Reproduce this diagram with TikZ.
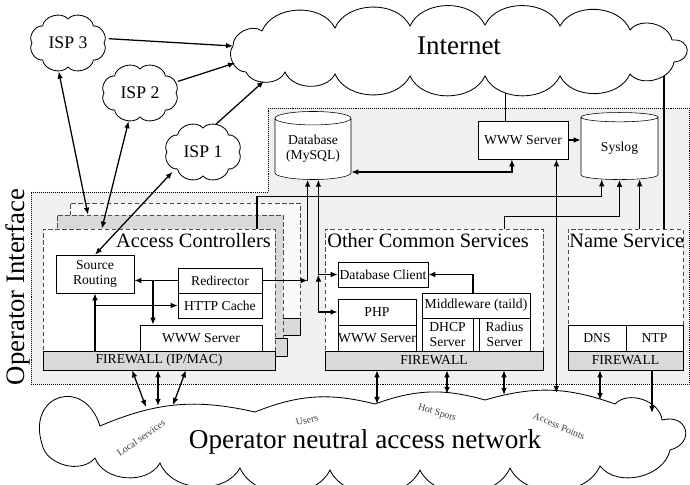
\documentclass[tikz,border=0pt]{standalone}
\usepackage{fontspec}
\setmainfont{Liberation Serif}
\usetikzlibrary{shapes.geometric,arrows.meta,calc}
\definecolor{fwgray}{gray}{0.85}
\definecolor{opgray}{gray}{0.94}
\newcommand{\smallfnt}{\fontsize{9.7}{11}\selectfont}
% small cloud round an ISP node
\newcommand{\ispcloud}[1]{\draw[cloudline] ($(#1)+(36,0)$) \foreach \a in {45,90,...,360} { to[puff] ($(#1)+({36*cos(\a)},{24*sin(\a)})$) };}

\begin{document}
\begin{tikzpicture}[x=0.025cm, y=-0.025cm,
    box/.style={draw, fill=white, inner sep=0pt, align=center, font=\smallfnt},
    fwall/.style={draw, fill=fwgray, inner sep=0pt, font=\smallfnt},
    group/.style={draw=black!70, dash pattern=on 3pt off 2pt, fill=white, inner sep=0pt},
    store/.style={cylinder, shape border rotate=90, aspect=0.25, draw, fill=white, inner sep=0pt, align=center, font=\smallfnt},
    cloudline/.style={draw, fill=white, line width=0.6pt},
    puff/.style={bend left=65},
    flatpuff/.style={bend left=18},
    endpuff/.style={bend left=90, looseness=2.2},
    isp/.style={ellipse, minimum width=2.05cm, minimum height=1.45cm, inner sep=0pt, font=\fontsize{12.6}{14}\selectfont},
    title/.style={inner sep=0pt, font=\fontsize{14.5}{16}\selectfont},
    tag/.style={inner sep=0pt, text=black!75, font=\fontsize{7}{8}\selectfont},
    arr/.style={-{Latex[length=5pt,width=4pt]}, line width=0.9pt},
    arr2/.style={{Latex[length=5pt,width=4pt]}-{Latex[length=5pt,width=4pt]}, line width=0.9pt},
    wire/.style={line width=1.2pt}]
\useasboundingbox (0,0) rectangle (690,485);

%% operator interface area
\draw[densely dotted, fill=opgray] (31,192) -- (268,192) -- (268,108) -- (689,108) -- (689,384) -- (31,384) -- cycle;
\node[rotate=90, inner sep=0pt, font=\fontsize{19}{21}\selectfont] (opif) at (18,287) {Operator Interface};

%% access controllers, stacked
\node[group, fill=gray!4, minimum width=5.75cm, minimum height=2.875cm] (acback) at (185,260.5) {};
\node[fwall, minimum width=5.75cm, minimum height=0.425cm] (acbackfw) at (185,326.5) {};
\node[group, fill=fwgray, minimum width=5.65cm, minimum height=3.075cm] (acmid) at (170,276.5) {};
\node[fwall, minimum width=5.75cm, minimum height=0.45cm] (acmidfw) at (172,347) {};
\node[group, minimum width=5.8cm, minimum height=3.05cm] (acfront) at (159,290) {};
\node[fwall, minimum width=5.8cm, minimum height=0.475cm] (acfw) at (159,360.5) {FIREWALL (IP/MAC)};
\node[title, anchor=east] (actitle) at (271,241) {Access Controllers};
\node[box, minimum width=1.95cm, minimum height=0.95cm] (src) at (95,274) {Source\\Routing};
\node[box, minimum width=2.1cm, minimum height=0.625cm] (redir) at (220,280.5) {Redirector};
\node[box, minimum width=2.1cm, minimum height=0.625cm] (cache) at (220,305.5) {HTTP Cache};
\node[box, minimum width=3.05cm, minimum height=0.65cm] (acwww) at (201,338) {WWW Server};

%% other common services
\node[group, minimum width=5.45cm, minimum height=3.05cm] (ocs) at (434,290) {};
\node[fwall, minimum width=5.45cm, minimum height=0.475cm] (ocsfw) at (434,360.5) {FIREWALL};
\node[title, anchor=west] (ocstitle) at (327,241) {Other Common Services};
\node[box, minimum width=2.25cm, minimum height=0.625cm] (dbclient) at (383,274.5) {Database Client};
\node[box, minimum width=1.95cm, minimum height=0.65cm] (php) at (377,312) {PHP};
\node[box, minimum width=1.95cm, minimum height=0.65cm] (ocswww) at (377,338) {WWW Server};
\node[box, minimum width=2.7cm, minimum height=0.625cm] (mw) at (476,305.5) {Middleware (taild)};
\node[box, minimum width=1.275cm, minimum height=0.825cm] (dhcp) at (447.5,334.5) {DHCP\\Server};
\node[box, minimum width=1.275cm, minimum height=0.825cm] (radius) at (504.5,334.5) {Radius\\Server};

%% name service
\node[group, minimum width=2.875cm, minimum height=3.05cm] (ns) at (625.5,290) {};
\node[fwall, minimum width=2.875cm, minimum height=0.475cm] (nsfw) at (625.5,360.5) {FIREWALL};
\node[title, anchor=west] (nstitle) at (569,241) {Name Service};
\node[box, minimum width=1.45cm, minimum height=0.65cm] (dns) at (597,338) {DNS};
\node[box, minimum width=1.425cm, minimum height=0.65cm] (ntp) at (654.5,338) {NTP};

%% shared servers
\node[store, minimum width=1.9cm, minimum height=1.7cm] (db) at (313,149) {Database\\(MySQL)};
\node[store, minimum width=1.925cm, minimum height=1.675cm] (syslog) at (619.5,148.5) {Syslog};
\node[box, minimum width=2.25cm, minimum height=0.95cm] (www) at (523,140) {WWW Server};

%% internet cloud
\coordinate (inetc) at (459,49);
\draw[wire] (www.132) -- (www.132 |- inetc);
\draw[wire] (ns.58) -- (ns.58 |- inetc);
\draw[cloudline] (246,72) to[puff] (233,46) to[puff] (262,31) to[puff] (335,28) to[puff] (410,26)
    to[puff] (485,25) to[puff] (560,26) to[puff] (630,30) to[puff] (672,40) to[endpuff] (674,62)
    to[puff] (630,74) to[puff] (560,76) to[puff] (485,76) to[puff] (410,76) to[puff] (335,74)
    to[puff] (285,72) to[puff] (246,72);
\node[inner sep=0pt, font=\fontsize{19.2}{21}\selectfont] (inet) at (459,46) {Internet};
\coordinate (ia) at (233,46); \coordinate (ib) at (235,63); \coordinate (ic) at (264,81);

%% isp clouds
\node[isp] (isp3) at (68,43) {};
\node[isp] (isp2) at (140,93) {};
\node[isp] (isp1) at (203,152) {};
\ispcloud{isp3} \ispcloud{isp2} \ispcloud{isp1}
\node[isp] at (isp3) {ISP 3};
\node[isp] at (isp2) {ISP 2};
\node[isp] at (isp1) {ISP 1};

%% access network cloud
\draw[cloudline] (42,444) to[endpuff] (100,426) to[flatpuff] (255,412) to[flatpuff] (375,404)
    to[flatpuff] (485,400) to[flatpuff] (615,404) to[puff] (662,420) to[endpuff] (670,450)
    to[puff] (600,466) to[puff] (510,468) to[puff] (420,470) to[puff] (330,470) to[puff] (240,468)
    to[puff] (160,463) to[puff] (95,458) to[puff] (42,444);
\node[inner sep=0pt, font=\fontsize{19.4}{21}\selectfont] (oan) at (365,442) {Operator neutral access network};
\node[tag, rotate=35] (local) at (141,438) {Local services};
\node[tag, rotate=15] (users) at (307,420) {Users};
\node[tag, rotate=-18] (hot) at (437,413) {Hot Spots};
\node[tag, rotate=-23] (aps) at (559,426) {Access Points};

%% isp links
\draw[arr] (isp3.6) -- (ia);
\draw[arr] (isp2.17) -- (ib);
\draw[arr] (isp1.65) -- (ic);
\draw[arr2] (isp3.252) -- (acmid.143);
\draw[arr2] (isp2.248) -- (acfront.133);
\draw[arr2] (isp1.213) -- (src.north);

%% servers
\draw[arr] (www.east) -- (www.east -| syslog.west);
\draw[arr2] (db.329) -| (www.240);
\coordinate (j1) at (redir.east -| db.260);
\draw[arr] (redir.east) -- (j1);
\draw[arr] (j1) -- (db.260);
\coordinate (j2) at (dbclient.west -| db.280);
\draw[arr2] (php.west) -| (j2);
\draw[arr] (j2) -- (db.280);
\draw[arr] (j2) -- (dbclient.west);
% logging
\draw[arr] (acfront.32) -- ++(0,-32) -| (syslog.240);
\draw[arr] (ocs.41) -- ++(0,-12) -| (syslog.270);
\draw[arr] (ns.77) -- (ns.77 |- syslog.300);

%% inside the boxes
\draw[arr] (redir.west) -- (redir.west -| src.east);
\coordinate (j3) at ($(src.east |- redir.west)!0.43!(redir.west)$);
\draw[arr] (j3) -- (j3 |- acwww.north);
\draw[arr] (src.south |- acfw.north) -- (src.south);
\draw[arr] (src.south |- cache.west) -- (cache.west);
\draw[arr, line width=1.2pt] (mw.103) |- (dbclient.east);

%% down to the access network
\coordinate (l1) at (146,407); \coordinate (l2) at (158,406); \coordinate (l3) at (173,405);
\coordinate (h1) at (377,404); \coordinate (h2) at (447,394); \coordinate (h3) at (504,395);
\coordinate (h4) at (556,393); \coordinate (a1) at (600,400); \coordinate (a2) at (652,413);
\draw[arr2] (acfw.200) -- (l1);
\draw[arr2] (acfw.south -| l2) -- (l2);
\draw[arr2] (acfw.340) -- (l3);
\foreach \p in {h1,h2,h3} \draw[arr2] (ocsfw.south -| \p) -- (\p);
\draw[arr2] (www.330) -- (www.330 |- h4);
\draw[arr2] (nsfw.south -| a1) -- (a1);
\draw[arr] (nsfw.south -| a2) -- (a2);
\end{tikzpicture}
\end{document}
